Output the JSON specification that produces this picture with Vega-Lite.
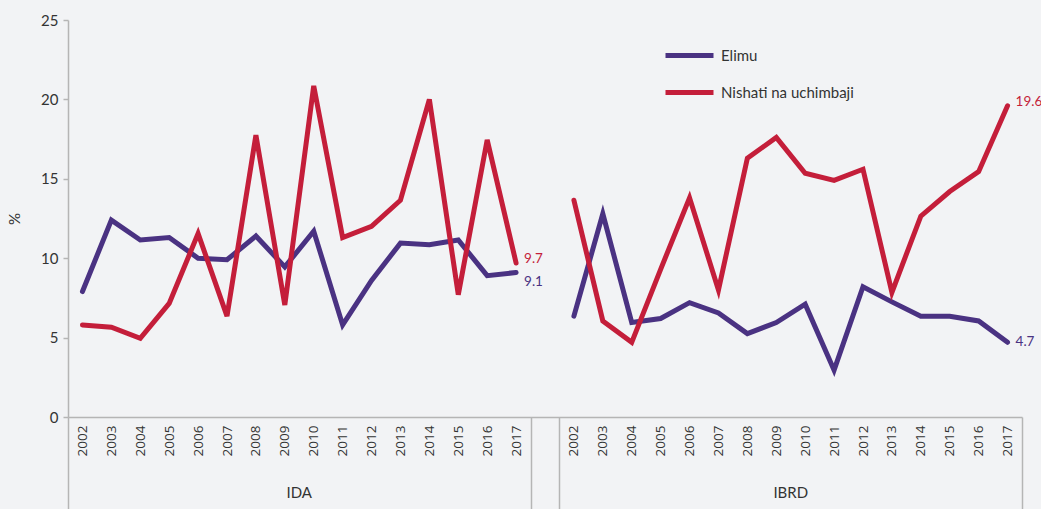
{
  "$schema": "https://vega.github.io/schema/vega-lite/v6.json",
  "width": 954,
  "height": 397,
  "autosize": {"type": "none"},
  "padding": {"left": 68, "top": 20, "right": 19, "bottom": 92},
  "background": "#f2f3f5",
  "config": {"view": {"stroke": null}, "font": "Lato"},
  "datasets": {
    "main": [
      {"g": "IDA", "yr": "2002", "x": "IDA 2002", "s": "Elimu", "v": 7.9},
      {"g": "IDA", "yr": "2003", "x": "IDA 2003", "s": "Elimu", "v": 12.4},
      {"g": "IDA", "yr": "2004", "x": "IDA 2004", "s": "Elimu", "v": 11.15},
      {"g": "IDA", "yr": "2005", "x": "IDA 2005", "s": "Elimu", "v": 11.3},
      {"g": "IDA", "yr": "2006", "x": "IDA 2006", "s": "Elimu", "v": 10.0},
      {"g": "IDA", "yr": "2007", "x": "IDA 2007", "s": "Elimu", "v": 9.9},
      {"g": "IDA", "yr": "2008", "x": "IDA 2008", "s": "Elimu", "v": 11.4},
      {"g": "IDA", "yr": "2009", "x": "IDA 2009", "s": "Elimu", "v": 9.45},
      {"g": "IDA", "yr": "2010", "x": "IDA 2010", "s": "Elimu", "v": 11.7},
      {"g": "IDA", "yr": "2011", "x": "IDA 2011", "s": "Elimu", "v": 5.8},
      {"g": "IDA", "yr": "2012", "x": "IDA 2012", "s": "Elimu", "v": 8.6},
      {"g": "IDA", "yr": "2013", "x": "IDA 2013", "s": "Elimu", "v": 10.95},
      {"g": "IDA", "yr": "2014", "x": "IDA 2014", "s": "Elimu", "v": 10.85},
      {"g": "IDA", "yr": "2015", "x": "IDA 2015", "s": "Elimu", "v": 11.15},
      {"g": "IDA", "yr": "2016", "x": "IDA 2016", "s": "Elimu", "v": 8.9},
      {"g": "IDA", "yr": "2017", "x": "IDA 2017", "s": "Elimu", "v": 9.1},
      {"g": "IDA", "yr": "2002", "x": "IDA 2002", "s": "Nishati na uchimbaji", "v": 5.8},
      {"g": "IDA", "yr": "2003", "x": "IDA 2003", "s": "Nishati na uchimbaji", "v": 5.65},
      {"g": "IDA", "yr": "2004", "x": "IDA 2004", "s": "Nishati na uchimbaji", "v": 4.95},
      {"g": "IDA", "yr": "2005", "x": "IDA 2005", "s": "Nishati na uchimbaji", "v": 7.15},
      {"g": "IDA", "yr": "2006", "x": "IDA 2006", "s": "Nishati na uchimbaji", "v": 11.55},
      {"g": "IDA", "yr": "2007", "x": "IDA 2007", "s": "Nishati na uchimbaji", "v": 6.35},
      {"g": "IDA", "yr": "2008", "x": "IDA 2008", "s": "Nishati na uchimbaji", "v": 17.75},
      {"g": "IDA", "yr": "2009", "x": "IDA 2009", "s": "Nishati na uchimbaji", "v": 7.05},
      {"g": "IDA", "yr": "2010", "x": "IDA 2010", "s": "Nishati na uchimbaji", "v": 20.85},
      {"g": "IDA", "yr": "2011", "x": "IDA 2011", "s": "Nishati na uchimbaji", "v": 11.3},
      {"g": "IDA", "yr": "2012", "x": "IDA 2012", "s": "Nishati na uchimbaji", "v": 12.0},
      {"g": "IDA", "yr": "2013", "x": "IDA 2013", "s": "Nishati na uchimbaji", "v": 13.65},
      {"g": "IDA", "yr": "2014", "x": "IDA 2014", "s": "Nishati na uchimbaji", "v": 20.0},
      {"g": "IDA", "yr": "2015", "x": "IDA 2015", "s": "Nishati na uchimbaji", "v": 7.7},
      {"g": "IDA", "yr": "2016", "x": "IDA 2016", "s": "Nishati na uchimbaji", "v": 17.45},
      {"g": "IDA", "yr": "2017", "x": "IDA 2017", "s": "Nishati na uchimbaji", "v": 9.7},
      {"g": "IBRD", "yr": "2002", "x": "IBRD 2002", "s": "Elimu", "v": 6.35},
      {"g": "IBRD", "yr": "2003", "x": "IBRD 2003", "s": "Elimu", "v": 12.8},
      {"g": "IBRD", "yr": "2004", "x": "IBRD 2004", "s": "Elimu", "v": 5.95},
      {"g": "IBRD", "yr": "2005", "x": "IBRD 2005", "s": "Elimu", "v": 6.2},
      {"g": "IBRD", "yr": "2006", "x": "IBRD 2006", "s": "Elimu", "v": 7.2},
      {"g": "IBRD", "yr": "2007", "x": "IBRD 2007", "s": "Elimu", "v": 6.55},
      {"g": "IBRD", "yr": "2008", "x": "IBRD 2008", "s": "Elimu", "v": 5.25},
      {"g": "IBRD", "yr": "2009", "x": "IBRD 2009", "s": "Elimu", "v": 5.95},
      {"g": "IBRD", "yr": "2010", "x": "IBRD 2010", "s": "Elimu", "v": 7.1},
      {"g": "IBRD", "yr": "2011", "x": "IBRD 2011", "s": "Elimu", "v": 2.95},
      {"g": "IBRD", "yr": "2012", "x": "IBRD 2012", "s": "Elimu", "v": 8.2},
      {"g": "IBRD", "yr": "2013", "x": "IBRD 2013", "s": "Elimu", "v": 7.25},
      {"g": "IBRD", "yr": "2014", "x": "IBRD 2014", "s": "Elimu", "v": 6.35},
      {"g": "IBRD", "yr": "2015", "x": "IBRD 2015", "s": "Elimu", "v": 6.35},
      {"g": "IBRD", "yr": "2016", "x": "IBRD 2016", "s": "Elimu", "v": 6.05},
      {"g": "IBRD", "yr": "2017", "x": "IBRD 2017", "s": "Elimu", "v": 4.7},
      {"g": "IBRD", "yr": "2002", "x": "IBRD 2002", "s": "Nishati na uchimbaji", "v": 13.65},
      {"g": "IBRD", "yr": "2003", "x": "IBRD 2003", "s": "Nishati na uchimbaji", "v": 6.05},
      {"g": "IBRD", "yr": "2004", "x": "IBRD 2004", "s": "Nishati na uchimbaji", "v": 4.7},
      {"g": "IBRD", "yr": "2005", "x": "IBRD 2005", "s": "Nishati na uchimbaji", "v": 9.3},
      {"g": "IBRD", "yr": "2006", "x": "IBRD 2006", "s": "Nishati na uchimbaji", "v": 13.8},
      {"g": "IBRD", "yr": "2007", "x": "IBRD 2007", "s": "Nishati na uchimbaji", "v": 8.0},
      {"g": "IBRD", "yr": "2008", "x": "IBRD 2008", "s": "Nishati na uchimbaji", "v": 16.3},
      {"g": "IBRD", "yr": "2009", "x": "IBRD 2009", "s": "Nishati na uchimbaji", "v": 17.6},
      {"g": "IBRD", "yr": "2010", "x": "IBRD 2010", "s": "Nishati na uchimbaji", "v": 15.35},
      {"g": "IBRD", "yr": "2011", "x": "IBRD 2011", "s": "Nishati na uchimbaji", "v": 14.9},
      {"g": "IBRD", "yr": "2012", "x": "IBRD 2012", "s": "Nishati na uchimbaji", "v": 15.6},
      {"g": "IBRD", "yr": "2013", "x": "IBRD 2013", "s": "Nishati na uchimbaji", "v": 7.85},
      {"g": "IBRD", "yr": "2014", "x": "IBRD 2014", "s": "Nishati na uchimbaji", "v": 12.65},
      {"g": "IBRD", "yr": "2015", "x": "IBRD 2015", "s": "Nishati na uchimbaji", "v": 14.2},
      {"g": "IBRD", "yr": "2016", "x": "IBRD 2016", "s": "Nishati na uchimbaji", "v": 15.45},
      {"g": "IBRD", "yr": "2017", "x": "IBRD 2017", "s": "Nishati na uchimbaji", "v": 19.6}
    ],
    "groups": [{"grp": "IDA"}, {"grp": "IBRD"}]
  },
  "layer": [
    {
      "data": {"name": "main"},
      "encoding": {
        "x": {
          "field": "x",
          "type": "nominal",
          "bandPosition": 0.5,
          "scale": {
            "type": "band",
            "paddingInner": 0,
            "paddingOuter": 0,
            "domain": ["IDA 2002", "IDA 2003", "IDA 2004", "IDA 2005", "IDA 2006", "IDA 2007", "IDA 2008", "IDA 2009", "IDA 2010", "IDA 2011", "IDA 2012", "IDA 2013", "IDA 2014", "IDA 2015", "IDA 2016", "IDA 2017", "gap", "IBRD 2002", "IBRD 2003", "IBRD 2004", "IBRD 2005", "IBRD 2006", "IBRD 2007", "IBRD 2008", "IBRD 2009", "IBRD 2010", "IBRD 2011", "IBRD 2012", "IBRD 2013", "IBRD 2014", "IBRD 2015", "IBRD 2016", "IBRD 2017"]
          },
          "axis": {
            "title": null,
            "labelExpr": "datum.value == 'gap' || !datum.value ? '' : slice(datum.value, -4)",
            "labelAngle": -90,
            "labelFont": "Open Sans",
            "labelFontSize": 13.5,
            "labelColor": "#333333",
            "labelPadding": -84,
            "labelOverlap": false,
            "domainColor": "#b5b5b5",
            "domainWidth": 1.5,
            "tickBand": "extent",
            "tickSize": 92,
            "tickColor": "#b5b5b5",
            "tickWidth": 1.5,
            "tickOpacity": {"condition": {"test": "!datum.value || datum.value == 'IDA 2017' || datum.value == 'gap' || datum.value == 'IBRD 2017'", "value": 1}, "value": 0}
          }
        },
        "y": {
          "field": "v",
          "type": "quantitative",
          "scale": {"domain": [0, 25]},
          "axis": {
            "title": "%",
            "titleFont": "Lato",
            "titleFontWeight": "normal",
            "titleFontSize": 15,
            "titleColor": "#333333",
            "titlePadding": 18,
            "values": [0, 5, 10, 15, 20, 25],
            "grid": false,
            "domainColor": "#b5b5b5",
            "domainWidth": 1.5,
            "tickColor": "#b5b5b5",
            "tickWidth": 1.5,
            "tickSize": 5,
            "labelFont": "Lato",
            "labelFontSize": 15,
            "labelColor": "#333333",
            "labelPadding": 5
          }
        },
        "color": {
          "field": "s",
          "type": "nominal",
          "scale": {"domain": ["Elimu", "Nishati na uchimbaji"], "range": ["#4a3282", "#c41e3a"]},
          "legend": {
            "title": null,
            "orient": "none",
            "legendX": 595,
            "legendY": 9,
            "padding": 0,
            "symbolType": "stroke",
            "symbolStrokeWidth": 5,
            "symbolSize": 2304,
            "labelFont": "Lato",
            "labelFontSize": 15,
            "labelColor": "#333333",
            "labelOffset": 5,
            "rowPadding": -4
          }
        }
      },
      "layer": [
        {
          "mark": {"type": "line", "strokeWidth": 5, "strokeCap": "round", "strokeJoin": "miter"},
          "encoding": {"detail": {"field": "g", "type": "nominal"}}
        },
        {
          "transform": [{"filter": "datum.yr == '2017'"}],
          "mark": {"type": "text", "align": "left", "dx": 8, "font": "Lato", "fontSize": 13.5, "dy": {"expr": "datum.s == 'Elimu' ? (datum.g == 'IDA' ? 10 : 0) : -4"}},
          "encoding": {"text": {"field": "v", "type": "quantitative", "format": ".1f"}}
        }
      ]
    },
    {
      "data": {"name": "groups"},
      "mark": {"type": "point", "opacity": 0},
      "encoding": {
        "x": {
          "field": "grp",
          "type": "nominal",
          "sort": null,
          "scale": {"type": "band", "domain": ["IDA", "IBRD"], "paddingInner": 0.0588, "paddingOuter": 0},
          "axis": {"orient": "bottom", "title": null, "domain": false, "ticks": false, "labelAngle": 0, "labelPadding": 68, "labelFont": "Lato", "labelFontSize": 15, "labelColor": "#333333"}
        }
      }
    }
  ],
  "resolve": {"scale": {"x": "independent"}}
}
